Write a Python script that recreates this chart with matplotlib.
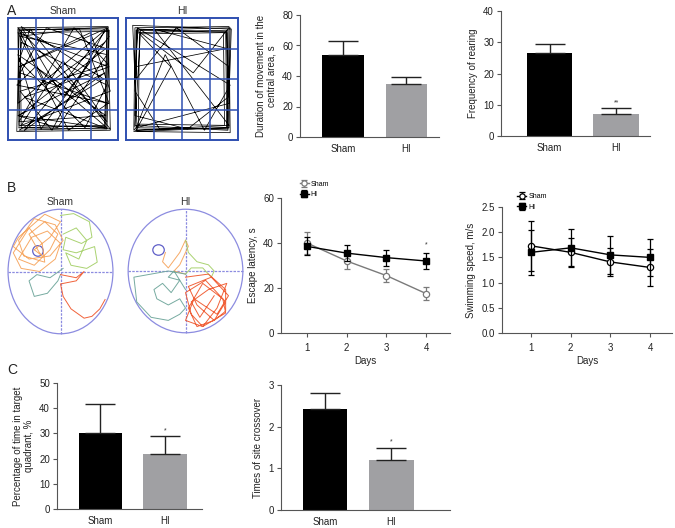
import matplotlib
matplotlib.use("Agg")
import matplotlib.pyplot as plt
from matplotlib.patches import Ellipse
import numpy as np

plt.rcParams['font.family'] = ['Liberation Sans', 'DejaVu Sans']

W, H = 675, 528

# ---------------- data ----------------
groups = ["Sham", "HI"]
central_duration = [54, 35]
central_duration_err = [9, 4.5]
rearing = [26.5, 7]
rearing_err = [3, 2]
days = [1, 2, 3, 4]
escape_sham = [40, 32, 25.5, 17.5]
escape_sham_err = [5, 3.5, 3, 3]
escape_hi = [38.5, 35.5, 33.5, 32]
escape_hi_err = [4, 3.5, 3.5, 3.7]
speed_sham = [1.73, 1.6, 1.41, 1.3]
speed_sham_err = [0.49, 0.29, 0.28, 0.36]
speed_hi = [1.6, 1.69, 1.55, 1.5]
speed_hi_err = [0.45, 0.37, 0.37, 0.37]
target_time = [30, 21.8]
target_time_err = [11.7, 7.2]
crossover = [2.43, 1.21]
crossover_err = [0.37, 0.29]

# open-field tracks (box coords 0..1)
sham_of_x = [0.10,0.12,0.90,0.88,0.15,0.92,0.09,0.55,0.91,0.11,0.35,0.89,0.10,0.93,0.20,0.10,0.70,0.90,0.12,0.09,0.88,0.40,0.11,0.91,0.60,0.10,0.89,0.09,0.30,0.92,0.50,0.12,0.87,0.10,0.90,0.25,0.08,0.92,0.65,0.11,0.90,0.45,0.09,0.88,0.15,0.91,0.10,0.75,0.93,0.12,0.50,0.90,0.09,0.35,0.88]
sham_of_y = [0.10,0.90,0.92,0.10,0.35,0.60,0.88,0.08,0.30,0.55,0.92,0.75,0.20,0.09,0.91,0.65,0.10,0.45,0.80,0.30,0.90,0.08,0.40,0.62,0.92,0.15,0.20,0.70,0.09,0.85,0.35,0.93,0.50,0.08,0.10,0.60,0.45,0.30,0.91,0.85,0.70,0.10,0.20,0.55,0.08,0.92,0.60,0.88,0.40,0.12,0.65,0.15,0.92,0.45,0.80]
sham_edge_x = [0.10,0.90,0.92,0.09,0.10,0.89,0.91,0.11,0.12,0.88,0.90,0.10,0.08,0.93,0.91,0.09]
sham_edge_y = [0.10,0.09,0.90,0.91,0.12,0.11,0.89,0.88,0.10,0.12,0.92,0.90,0.07,0.08,0.93,0.92]
hi_of_x = [0.08,0.92,0.93,0.09,0.08,0.91,0.90,0.10,0.09,0.45,0.92,0.90,0.30,0.08,0.10,0.60,0.91,0.92,0.09,0.35,0.70,0.93,0.10,0.08,0.55,0.91,0.90,0.11,0.40,0.09,0.92,0.25,0.90,0.08]
hi_of_y = [0.08,0.10,0.92,0.90,0.12,0.08,0.88,0.91,0.50,0.92,0.60,0.10,0.09,0.40,0.90,0.55,0.91,0.30,0.10,0.70,0.08,0.45,0.92,0.20,0.09,0.35,0.90,0.88,0.60,0.08,0.12,0.91,0.75,0.60]
hi_edge_x = [0.07,0.93,0.92,0.08,0.07,0.12,0.88,0.87,0.12,0.11,0.09,0.91,0.94,0.06,0.10,0.90,0.89,0.13,0.08]
hi_edge_y = [0.07,0.06,0.93,0.92,0.08,0.13,0.12,0.88,0.87,0.12,0.10,0.09,0.91,0.94,0.07,0.10,0.89,0.90,0.11]

# water-maze tracks (ellipse coords -1..1)
sham_or_x = [-0.5,-0.2,0.0,-0.3,-0.8,-0.9,-0.6,-0.2,0.05,-0.1,-0.5,-0.8,-0.7,-0.3,-0.35,-0.6,-0.9,-0.75,-0.4,-0.1,0.0,-0.25,-0.55,-0.8,-0.5,-0.2,-0.05,-0.3,-0.6,-0.4,-0.35,-0.5]
sham_or_y = [0.35,0.55,0.8,0.92,0.55,0.4,0.2,0.25,0.5,0.75,0.85,0.5,0.25,0.15,0.45,0.7,0.3,0.05,0.0,0.2,0.45,0.65,0.55,0.2,0.1,0.35,0.6,0.8,0.6,0.3,0.25,0.35]
sham_gr_x = [0.0,0.25,0.55,0.6,0.4,0.1,0.05,0.3,0.65,0.7,0.5,0.2,0.1,0.35,0.5,0.3,0.05]
sham_gr_y = [0.9,0.93,0.8,0.55,0.45,0.55,0.35,0.3,0.4,0.15,0.05,0.1,0.3,0.2,0.5,0.7,0.6]
sham_te_x = [0.05,-0.2,-0.45,-0.6,-0.5,-0.25,-0.05,0.0]
sham_te_y = [0.05,-0.1,-0.05,-0.15,-0.4,-0.35,-0.15,-0.05]
sham_rd_x = [0.0,0.3,0.45,0.3,0.0,0.05,0.2,0.45,0.6,0.75,0.85]
sham_rd_y = [-0.05,-0.1,0.0,-0.15,-0.2,-0.4,-0.6,-0.75,-0.72,-0.6,-0.45]
hi_or_x = [-0.35,-0.4,-0.3,-0.1,0.0,0.05,-0.1,-0.2,0.0]
hi_or_y = [0.3,0.15,0.05,0.3,0.5,0.4,0.1,0.0,-0.05]
hi_gr_x = [0.0,0.05,0.2,0.4,0.5,0.45,0.3,0.1,0.0]
hi_gr_y = [0.5,0.3,0.15,0.1,0.0,-0.1,0.05,0.05,-0.05]
hi_te_x = [0.0,-0.3,-0.6,-0.9,-0.85,-0.6,-0.3,-0.1,0.0,-0.1,-0.3,-0.5,-0.55,-0.4,-0.25,-0.1,-0.3,-0.2,0.0]
hi_te_y = [-0.05,0.0,-0.05,-0.1,-0.5,-0.75,-0.8,-0.7,-0.6,-0.45,-0.55,-0.45,-0.3,-0.2,-0.35,-0.15,-0.1,0.0,-0.3]
hi_rd_x = [0.0,0.4,0.7,0.7,0.5,0.2,0.05,0.3,0.65,0.7,0.3,0.1,0.0,0.35,0.7,0.5,0.2,0.05,0.45,0.75,0.55,0.15,0.0,0.3,0.55,0.72,0.4,0.1,0.25,0.5]
hi_rd_y = [-0.1,-0.05,-0.3,-0.65,-0.8,-0.9,-0.6,-0.2,-0.45,-0.68,-0.9,-0.7,-0.35,-0.15,-0.5,-0.8,-0.55,-0.25,-0.1,-0.4,-0.7,-0.45,-0.8,-0.9,-0.6,-0.2,-0.3,-0.5,-0.75,-0.4]

# ---------------- layout helpers ----------------
fig = plt.figure(figsize=(W / 100, H / 100), dpi=100)

def ax_px(l, t, r, b):
    return fig.add_axes([l / W, 1 - b / H, (r - l) / W, (b - t) / H])

FS = 7
SPINE = '#555555'
BLACK = '#000000'
GRAY = '#a0a0a3'

def style(ax):
    for s in ['top', 'right']:
        ax.spines[s].set_visible(False)
    for s in ['left', 'bottom']:
        ax.spines[s].set_color(SPINE)
        ax.spines[s].set_linewidth(0.8)
    ax.tick_params(direction='out', length=3, width=0.8, color=SPINE,
                   labelsize=FS, labelcolor='#222222', pad=2)

def bar_panel(ax, vals, errs, ylim, yticks, ylabel, xlim, width, stars=None):
    style(ax)
    x = np.arange(len(groups))
    ax.bar(x, vals, width=width, color=[BLACK, GRAY], edgecolor='none', zorder=2)
    ax.errorbar(x, vals, yerr=[[0] * len(errs), errs], fmt='none', ecolor='#222222',
                elinewidth=1.0, capsize=11, capthick=1.0, zorder=3)
    ax.set_xlim(*xlim)
    ax.set_ylim(*ylim)
    ax.set_yticks(yticks)
    ax.set_xticks(x)
    ax.set_xticklabels(groups)
    ax.tick_params(axis='x', length=0, pad=5)
    ax.set_ylabel(ylabel, fontsize=FS, color='#222222', labelpad=4, linespacing=1.1)
    if stars:
        ax.text(1, vals[1] + errs[1] + (ylim[1] - ylim[0]) * 0.015, stars,
                ha='center', va='bottom', fontsize=5, color='#333333')

# ---------------- panel A ----------------
fig.text(7 / W, 1 - 11 / H, "A", fontsize=10, ha='left', va='center', color='#222222')

def open_field(ax, title, tracks):
    ax.set_xlim(0, 4)
    ax.set_ylim(0, 4)
    for (tx, ty) in tracks:
        ax.plot(np.array(tx) * 4, np.array(ty) * 4, color='black', lw=0.55, zorder=1)
    for k in [1, 2, 3]:
        ax.axvline(k, color='#2f4fb0', lw=1.1, zorder=2)
        ax.axhline(k, color='#2f4fb0', lw=1.1, zorder=2)
    for s in ax.spines.values():
        s.set_color('#2f4fb0')
        s.set_linewidth(1.4)
    ax.set_xticks([])
    ax.set_yticks([])
    ax.set_title(title, fontsize=FS + 0.5, color='#333333', pad=3)

a1 = ax_px(8, 18, 118, 140)
open_field(a1, "Sham", [(sham_of_x, sham_of_y), (sham_edge_x, sham_edge_y)])
a2 = ax_px(126, 18, 238, 140)
open_field(a2, "HI", [(hi_of_x, hi_of_y), (hi_edge_x, hi_edge_y)])

b1 = ax_px(300, 15, 439, 137)
bar_panel(b1, central_duration, central_duration_err, (0, 80), [0, 20, 40, 60, 80],
          "Duration of movement in the\ncentral area, s", (-0.677, 1.512), 0.66)
b2 = ax_px(501, 11, 650, 136)
bar_panel(b2, rearing, rearing_err, (0, 40), [0, 10, 20, 30, 40],
          "Frequency of rearing", (-0.73, 1.51), 0.68, stars="**")

# ---------------- panel B ----------------
fig.text(7 / W, 1 - 188 / H, "B", fontsize=10, ha='left', va='center', color='#222222')

MAZE = '#8c8ce0'
C_OR = '#f6a55e'
C_GR = '#a5d069'
C_TE = '#6fa69b'
C_RD = '#f05a30'

def maze(ax, title, tracks, platform):
    ax.set_xlim(-1.02, 1.02)
    ax.set_ylim(-1.02, 1.02)
    ax.axis('off')
    ax.add_patch(Ellipse((0, 0), 2, 2, fill=False, edgecolor=MAZE, lw=0.9))
    ax.plot([-1, 1], [0, 0], color=MAZE, lw=0.9, ls=(0, (2, 1)))
    ax.plot([0, 0], [-1, 1], color=MAZE, lw=0.9, ls=(0, (2, 1)))
    for (tx, ty, c) in tracks:
        ax.plot(tx, ty, color=c, lw=0.7, alpha=0.95)
    ax.add_patch(Ellipse(platform, 0.2, 0.17, fill=False, edgecolor='#6060c8', lw=0.9))
    ax.set_title(title, fontsize=FS + 0.5, color='#333333', pad=2)

m1 = ax_px(7, 208, 114, 335)
maze(m1, "Sham", [(sham_or_x, sham_or_y, C_OR), (sham_gr_x, sham_gr_y, C_GR),
                  (sham_te_x, sham_te_y, C_TE), (sham_rd_x, sham_rd_y, C_RD)], (-0.43, 0.33))
m2 = ax_px(127, 208, 244, 334)
maze(m2, "HI", [(hi_or_x, hi_or_y, C_OR), (hi_gr_x, hi_gr_y, C_GR),
                (hi_te_x, hi_te_y, C_TE), (hi_rd_x, hi_rd_y, C_RD)], (-0.47, 0.34))

def line_panel(ax, s, se, h, he, ylim, yticks, ylabel, xlim, sham_color, legend_anchor, yfmt=None, star=None):
    style(ax)
    ax.errorbar(days, s, yerr=se, color=sham_color, marker='o', mfc='white', mec=sham_color,
                ms=4.5, mew=0.9, lw=1.0, elinewidth=0.9, capsize=2.5, capthick=0.9,
                label='Sham', zorder=3)
    ax.errorbar(days, h, yerr=he, color='black', marker='s', mfc='black', mec='black',
                ms=4.5, lw=1.0, elinewidth=0.9, capsize=2.5, capthick=0.9,
                label='HI', zorder=4)
    ax.set_xlim(*xlim)
    ax.set_ylim(*ylim)
    ax.set_yticks(yticks)
    if yfmt:
        ax.set_yticklabels([yfmt.format(v) for v in yticks])
    ax.set_xticks(days)
    ax.set_xticklabels([str(d) for d in days])
    ax.tick_params(axis='x', pad=4)
    ax.set_xlabel("Days", fontsize=FS, color='#222222', labelpad=2)
    ax.set_ylabel(ylabel, fontsize=FS, color='#222222', labelpad=4)
    ax.legend(loc='lower left', bbox_to_anchor=legend_anchor, frameon=False,
              fontsize=5, handlelength=1.3, handletextpad=0.3, labelspacing=0.5,
              borderaxespad=0, borderpad=0, markerscale=0.85)
    if star is not None:
        ax.text(days[-1], star, "*", ha='center', va='bottom', fontsize=5, color='#333333')

l1 = ax_px(281, 198, 450, 333)
line_panel(l1, escape_sham, escape_sham_err, escape_hi, escape_hi_err, (0, 60),
           [0, 20, 40, 60], "Escape latency, s", (0.345, 4.6), '#7a7a7a', (0.11, 1.0),
           star=37.5)
l2 = ax_px(502, 207, 672, 333)
line_panel(l2, speed_sham, speed_sham_err, speed_hi, speed_hi_err, (0, 2.5),
           [0, 0.5, 1.0, 1.5, 2.0, 2.5], "Swimming speed, m/s", (0.27, 4.55), 'black',
           (0.09, 0.97), yfmt="{:.1f}")

# ---------------- panel C ----------------
fig.text(7 / W, 1 - 370 / H, "C", fontsize=10, ha='left', va='center', color='#222222')

c1 = ax_px(57, 383, 202, 509)
bar_panel(c1, target_time, target_time_err, (0, 50), [0, 10, 20, 30, 40, 50],
          "Percentage of time in target\nquadrant, %", (-0.674, 1.574), 0.67, stars="*")
c2 = ax_px(281, 385, 450, 510)
bar_panel(c2, crossover, crossover_err, (0, 3), [0, 1, 2, 3],
          "Times of site crossover", (-0.66, 1.88), 0.67, stars="*")

fig.savefig("out.png", dpi=100)
